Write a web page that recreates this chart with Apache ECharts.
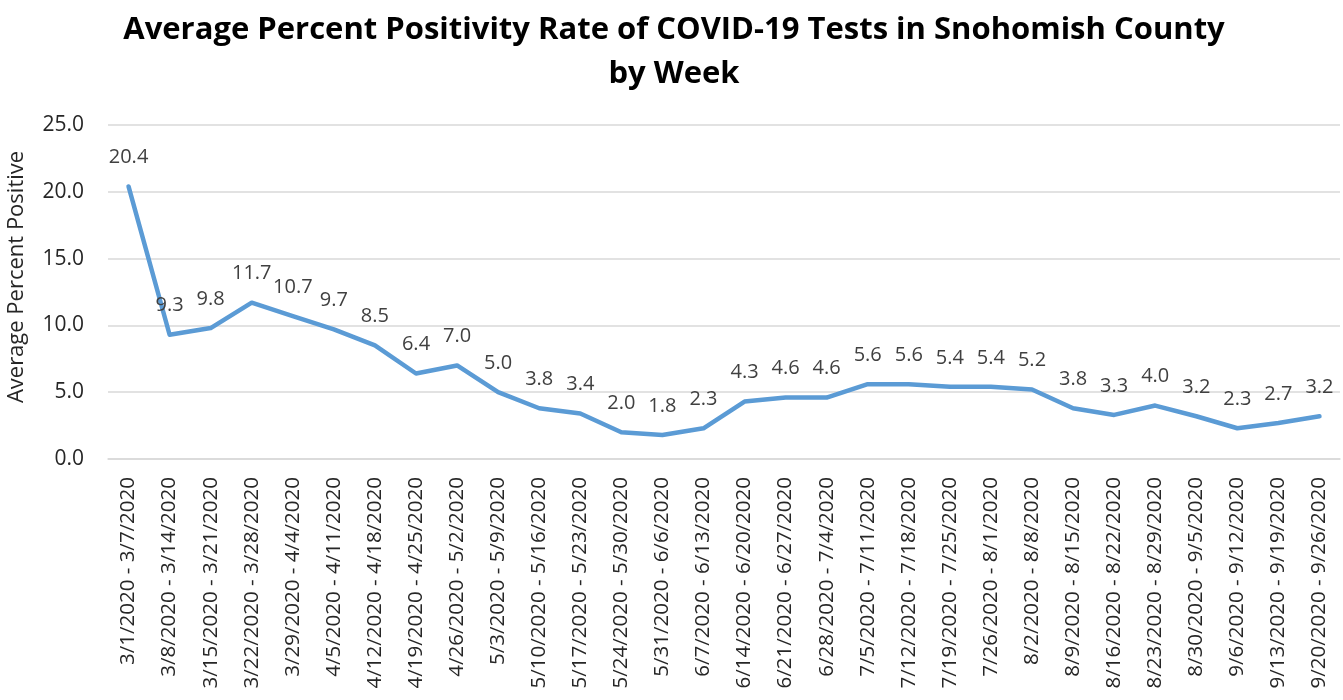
<!DOCTYPE html>
<html>
<head>
<meta charset="utf-8">
<script src="https://cdn.jsdelivr.net/npm/echarts@6/dist/echarts.min.js"></script>
<style>
  html, body { margin: 0; padding: 0; background: #fff; }
  #chart { width: 1343px; height: 700px; }
</style>
</head>
<body>
<div id="chart"></div>
<script>
// week ranges (Sunday - Saturday)
var weeks = [
  '3/1/2020 - 3/7/2020', '3/8/2020 - 3/14/2020', '3/15/2020 - 3/21/2020',
  '3/22/2020 - 3/28/2020', '3/29/2020 - 4/4/2020', '4/5/2020 - 4/11/2020',
  '4/12/2020 - 4/18/2020', '4/19/2020 - 4/25/2020', '4/26/2020 - 5/2/2020',
  '5/3/2020 - 5/9/2020', '5/10/2020 - 5/16/2020', '5/17/2020 - 5/23/2020',
  '5/24/2020 - 5/30/2020', '5/31/2020 - 6/6/2020', '6/7/2020 - 6/13/2020',
  '6/14/2020 - 6/20/2020', '6/21/2020 - 6/27/2020', '6/28/2020 - 7/4/2020',
  '7/5/2020 - 7/11/2020', '7/12/2020 - 7/18/2020', '7/19/2020 - 7/25/2020',
  '7/26/2020 - 8/1/2020', '8/2/2020 - 8/8/2020', '8/9/2020 - 8/15/2020',
  '8/16/2020 - 8/22/2020', '8/23/2020 - 8/29/2020', '8/30/2020 - 9/5/2020',
  '9/6/2020 - 9/12/2020', '9/13/2020 - 9/19/2020', '9/20/2020 - 9/26/2020'
];

var positivity = [
  20.4, 9.3, 9.8, 11.7, 10.7, 9.7, 8.5, 6.4, 7.0, 5.0,
  3.8, 3.4, 2.0, 1.8, 2.3, 4.3, 4.6, 4.6, 5.6, 5.6,
  5.4, 5.4, 5.2, 3.8, 3.3, 4.0, 3.2, 2.3, 2.7, 3.2
];

var chart = echarts.init(document.getElementById('chart'));

var font = '"Open Sans", "Liberation Sans", sans-serif';

var option = {
  animation: false,
  textStyle: { fontFamily: font },
  title: {
    text: 'Average Percent Positivity Rate of COVID-19 Tests in Snohomish County\nby Week',
    left: 669,
    textAlign: 'center',
    top: 3,
    textStyle: {
      fontFamily: font,
      fontSize: 31,
      fontWeight: 'bold',
      color: '#000',
      lineHeight: 44
    }
  },
  grid: {
    left: 108,
    right: 3,
    top: 125,
    bottom: 241,
    outerBoundsMode: 'none'
  },
  xAxis: {
    type: 'category',
    data: weeks,
    boundaryGap: true,
    axisLine: { show: true, lineStyle: { color: '#d9d9d9', width: 1.5 } },
    axisTick: { show: false },
    axisLabel: {
      rotate: 90,
      interval: 0,
      margin: 18,
      fontSize: 20.5,
      color: '#262626',
      fontFamily: font
    }
  },
  yAxis: {
    type: 'value',
    min: 0,
    max: 25,
    interval: 5,
    name: 'Average Percent Positive',
    nameLocation: 'middle',
    nameGap: 80,
    nameTextStyle: { fontSize: 22, color: '#262626', fontFamily: font, padding: [0, 0, 0, 30] },
    axisLine: { show: false },
    axisTick: { show: false },
    axisLabel: {
      fontSize: 21,
      color: '#262626',
      margin: 24,
      fontFamily: font,
      formatter: function (v) { return v.toFixed(1); }
    },
    splitLine: { lineStyle: { color: '#d9d9d9', width: 1.5 } }
  },
  series: [{
    name: 'Average Percent Positive',
    type: 'line',
    data: positivity,
    symbol: 'circle',
    symbolSize: 2,
    showSymbol: true,
    itemStyle: { color: '#5b9bd5' },
    lineStyle: { color: '#5b9bd5', width: 4.5, cap: 'round', join: 'round' },
    label: {
      show: true,
      position: 'top',
      distance: 18,
      fontSize: 20,
      color: '#404040',
      fontFamily: font,
      formatter: function (p) { return Number(p.value).toFixed(1); }
    }
  }]
};

chart.setOption(option);
</script>
</body>
</html>
